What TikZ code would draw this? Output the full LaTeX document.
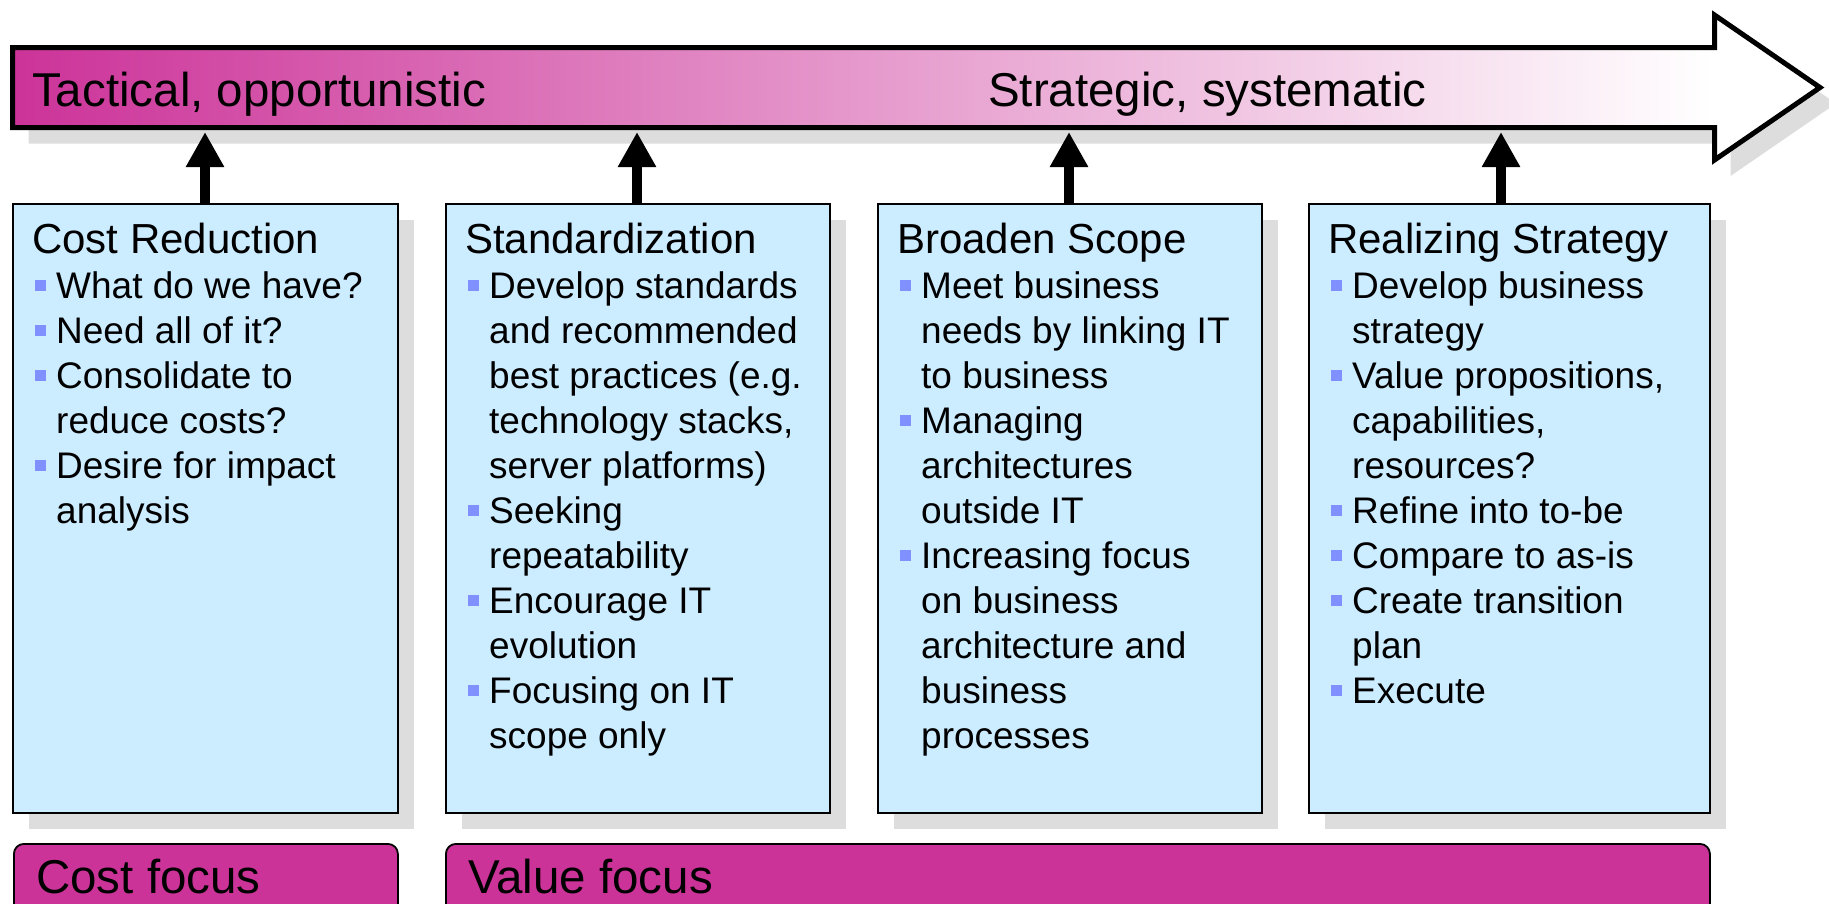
\documentclass[tikz,border=0pt]{standalone}
\usepackage{fontspec}
\setmainfont{Liberation Sans}
\usetikzlibrary{arrows.meta, shadows}
\definecolor{magbar}{RGB}{204,51,153}
\definecolor{boxblue}{RGB}{204,236,255}
\definecolor{shadowgray}{RGB}{221,221,221}
\definecolor{bulletblue}{RGB}{128,144,255}
\pgfdeclarehorizontalshading{timeline}{100bp}{color(0bp)=(magbar); color(25bp)=(magbar); color(72bp)=(white); color(100bp)=(white)}
\newcommand{\bl}{\hspace*{3pt}\textcolor{bulletblue}{\rule[7pt]{11pt}{11pt}}\hspace*{10pt}}
\newcommand{\cn}{\hspace*{24pt}}
\newcommand{\hd}[1]{{\fontsize{42pt}{45pt}\selectfont\rule{0pt}{40pt}#1}}

\begin{document}
\begin{tikzpicture}[x=1pt, y=-1pt, >={Triangle[width=36pt,length=35pt]}]
    \tikzstyle{stage}=[draw=black, line width=1.8pt, fill=boxblue, minimum height=609pt, inner sep=0pt, anchor=north west, drop shadow={shadow xshift=16pt, shadow yshift=-16pt, opacity=1, fill=shadowgray}]
    \tikzstyle{items}=[anchor=north west, align=left, inner sep=0pt, font=\fontsize{37pt}{45pt}\selectfont]
    \tikzstyle{focus}=[draw=black, line width=1.8pt, fill=magbar, rounded corners=10pt, minimum height=90pt, inner sep=0pt, anchor=north west]
    \tikzstyle{big}=[anchor=base west, inner sep=0pt, font=\fontsize{47.5pt}{50pt}\selectfont]
    \tikzstyle{up}=[->, line width=10pt]

    \useasboundingbox (0,0) rectangle (1829,903);
    \clip (0,0) rectangle (1829,903);

    % timeline arrow
    \fill[shadowgray, shift={(16,16)}] (12.5,47.5) -- (1714.5,47.5) -- (1714.5,15) -- (1820,87.5) -- (1714.5,160) -- (1714.5,127.5) -- (12.5,127.5) -- cycle;
    \draw[line width=5pt, line join=miter, shading=timeline, shading angle=0] (12.5,47.5) -- (1714.5,47.5) -- (1714.5,15) -- (1820,87.5) -- (1714.5,160) -- (1714.5,127.5) -- (12.5,127.5) -- cycle;
    \node[big] (tactical) at (32,106) {Tactical, opportunistic};
    \node[big] (strategic) at (988,106) {Strategic, systematic};

    \coordinate (tipA) at (205,132);
    \coordinate (tipB) at (637,132);
    \coordinate (tipC) at (1069,132);
    \coordinate (tipD) at (1501,132);

    % stages
    \node[stage, minimum width=385pt] (cost) at (12,203) {};
    \node[stage, minimum width=384pt] (standard) at (445,203) {};
    \node[stage, minimum width=384pt] (broaden) at (877,203) {};
    \node[stage, minimum width=401pt] (realize) at (1308,203) {};

    \node[items] (costtext) at ([shift={(20,10)}]cost.north west) {\hd{Cost Reduction}\\
        \bl What do we have?\\
        \bl Need all of it?\\
        \bl Consolidate to\\
        \cn reduce costs?\\
        \bl Desire for impact\\
        \cn analysis};
    \node[items] (standardtext) at ([shift={(20,10)}]standard.north west) {\hd{Standardization}\\
        \bl Develop standards\\
        \cn and recommended\\
        \cn best practices (e.g.\\
        \cn technology stacks,\\
        \cn server platforms)\\
        \bl Seeking\\
        \cn repeatability\\
        \bl Encourage IT\\
        \cn evolution\\
        \bl Focusing on IT\\
        \cn scope only};
    \node[items] (broadentext) at ([shift={(20,10)}]broaden.north west) {\hd{Broaden Scope}\\
        \bl Meet business\\
        \cn needs by linking IT\\
        \cn to business\\
        \bl Managing\\
        \cn architectures\\
        \cn outside IT\\
        \bl Increasing focus\\
        \cn on business\\
        \cn architecture and\\
        \cn business\\
        \cn processes};
    \node[items] (realizetext) at ([shift={(20,10)}]realize.north west) {\hd{Realizing Strategy}\\
        \bl Develop business\\
        \cn strategy\\
        \bl Value propositions,\\
        \cn capabilities,\\
        \cn resources?\\
        \bl Refine into to-be\\
        \bl Compare to as-is\\
        \bl Create transition\\
        \cn plan\\
        \bl Execute};

    \draw[up] (tipA |- cost.north) -- (tipA);
    \draw[up] (tipB |- standard.north) -- (tipB);
    \draw[up] (tipC |- broaden.north) -- (tipC);
    \draw[up] (tipD |- realize.north) -- (tipD);

    % focus bars
    \node[focus, minimum width=384pt] (costbar) at (13,843) {};
    \node[focus, minimum width=1264pt] (valuebar) at (445,843) {};
    \node[big] (costfocus) at ([shift={(23,50)}]costbar.north west) {Cost focus};
    \node[big] (valuefocus) at ([shift={(23,50)}]valuebar.north west) {Value focus};
\end{tikzpicture}
\end{document}
